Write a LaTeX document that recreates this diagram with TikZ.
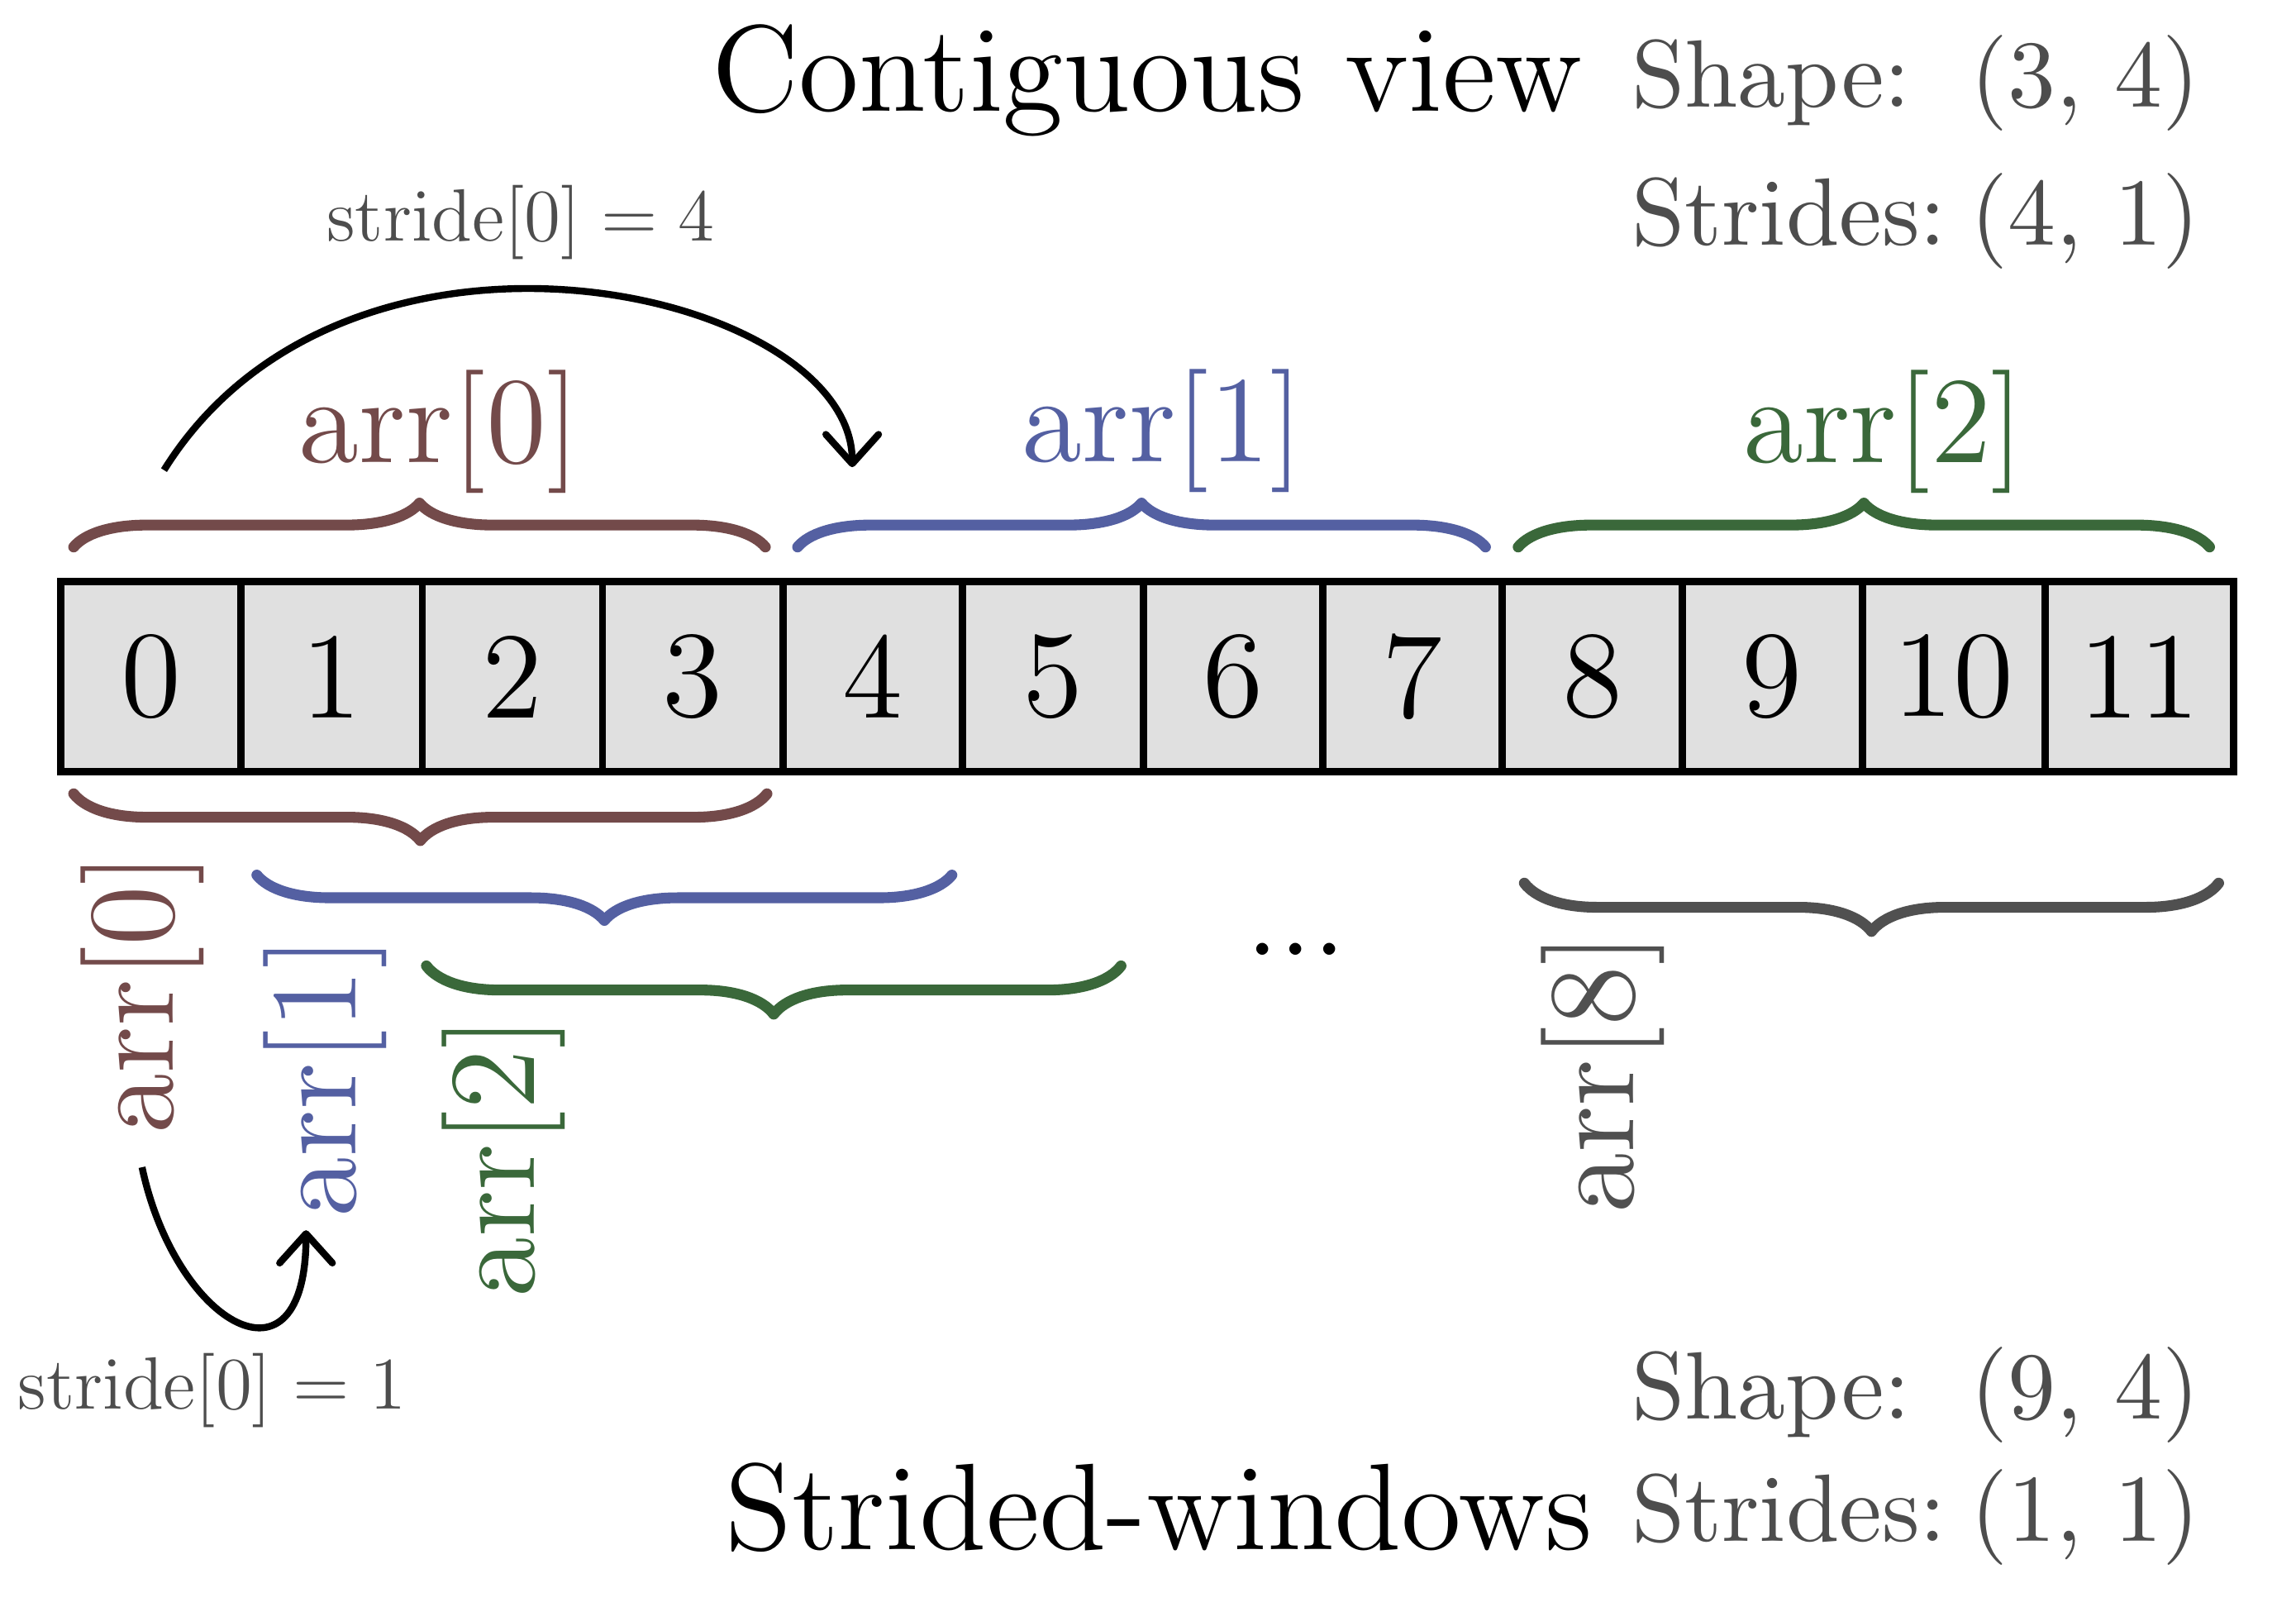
\documentclass[tikz,border=0pt]{standalone}
\usetikzlibrary{arrows.meta}
\definecolor{brn}{RGB}{115,74,74}
\definecolor{blu}{RGB}{84,96,162}
\definecolor{grn}{RGB}{58,104,58}
\definecolor{gry}{RGB}{80,80,80}
\definecolor{txtgry}{RGB}{77,77,77}
\definecolor{cellfill}{RGB}{224,224,224}
\font\bigrm="[lmroman12-regular]:mapping=tex-text" at 23.9pt
\font\midrm="[lmroman10-regular]:mapping=tex-text" at 18.6pt
\newcommand{\fsmall}{\fontsize{14}{17}\selectfont}
\begin{document}
\begin{tikzpicture}[x=0.01cm,y=-0.01cm,
  cell/.style={draw=black, line width=1.42pt, fill=cellfill, minimum height=1.3cm, inner sep=0pt, font=\bigrm},
  lbl/.style={inner sep=0pt, font=\bigrm},
  info/.style={inner sep=0pt, font=\midrm, text=txtgry},
  strl/.style={inner sep=0pt, font=\fsmall, text=txtgry},
  jump/.style={line width=1.35pt, -{Straight Barb[length=0.2cm,width=0.36cm,round]}},
  bracestroke/.style={line width=2.1pt, line cap=round, line join=round},
  pics/brc/.style n args={2}{code={
    \draw[pic actions] (0,0) .. controls ({0.15*50},{0.3*(#2)}) and ({0.5*50},{0.5*(#2)}) .. (50,{0.5*(#2)})
      -- ({#1-50},{0.5*(#2)}) .. controls ({#1-25},{0.5*(#2)}) and ({#1-7.5},{0.7*(#2)}) .. (#1,#2)
      .. controls ({#1+7.5},{0.7*(#2)}) and ({#1+25},{0.5*(#2)}) .. ({#1+50},{0.5*(#2)})
      -- ({2*#1-50},{0.5*(#2)}) .. controls ({2*#1-25},{0.5*(#2)}) and ({2*#1-7.5},{0.3*(#2)}) .. ({2*#1},0);
  }}
]
\useasboundingbox (0,0) rectangle (1568,1097);

% array cells
\foreach \i/\cx/\w in {0/103.05/1.229, 1/226.5/1.240, 2/350/1.230, 3/473.15/1.233, 4/596.15/1.227, 5/719.15/1.233, 6/842.15/1.227, 7/964.8/1.226, 8/1087.45/1.227, 9/1210.4/1.232, 10/1334.25/1.245, 11/1460.95/1.289}
  \node[cell, minimum width=\w cm] (c\i) at (\cx,462) {\i};

% top braces
\pic[draw=brn, bracestroke] at (50.3,373.5) {brc={236.2}{-30}};
\pic[draw=blu, bracestroke] at (544.7,373.5) {brc={234.9}{-30}};
\pic[draw=grn, bracestroke] at (1036.8,373.5) {brc={236.1}{-30}};

% bottom braces
\pic[draw=brn, bracestroke] at (50.3,542) {brc={236.75}{32}};
\pic[draw=blu, bracestroke] at (175.4,597.5) {brc={237.35}{31}};
\pic[draw=grn, bracestroke] at (291.2,659.5) {brc={237.2}{33}};
\pic[draw=gry, bracestroke] at (1041,603) {brc={237.1}{33}};

% top labels
\node[lbl, text=brn] (lt0) at (300,295) {arr[0]};
\node[lbl, text=blu] (lt1) at (794,294.5) {arr[1]};
\node[lbl, text=grn] (lt2) at (1286.5,295) {arr[2]};

% bottom labels
\node[lbl, text=brn, rotate=90] (lb0) at (97,678) {arr[0]};
\node[lbl, text=blu, rotate=90] (lb1) at (222,735) {arr[1]};
\node[lbl, text=grn, rotate=90] (lb2) at (344,790) {arr[2]};
\node[lbl, text=gry, rotate=90] (lb8) at (1094.5,732.5) {arr[8]};
\node[lbl, anchor=base] (dots) at (885,652) {...};

% stride labels
\node[strl] (s4) at (355.8,152) {$\mathrm{stride}[0] = 4$};
\node[strl] (s1) at (145,949.5) {$\mathrm{stride}[0] = 1$};

% titles
\node[lbl, anchor=base] (tc) at (783.5,75.8) {Contiguous view};
\node[lbl, anchor=base] (tsw) at (791.3,1057.8) {Strided-windows};

% info tables
\node[info, anchor=base west] (sh1) at (1113.5,73) {Shape:};
\node[info, anchor=base east] (sv1) at (1503,73) {(3, 4)};
\node[info, anchor=base west] (st1) at (1113.5,167.5) {Strides:};
\node[info, anchor=base east] (tv1) at (1503,167.5) {(4, 1)};
\node[info, anchor=base west] (sh2) at (1113.5,969.1) {Shape:};
\node[info, anchor=base east] (sv2) at (1503,969.1) {(9, 4)};
\node[info, anchor=base west] (st2) at (1113.5,1052.6) {Strides:};
\node[info, anchor=base east] (tv2) at (1503,1052.6) {(1, 1)};

% stride arrows
\coordinate (ta) at (112,321);
\coordinate (tb) at (582,319);
\draw[jump] (ta) .. controls (237.6,119.5) and (582,198) .. (tb);
\coordinate (ba) at (97,797);
\coordinate (bb) at (209,840);
\draw[jump] (ba) .. controls (120,905) and (209,955) .. (bb);
\end{tikzpicture}
\end{document}
